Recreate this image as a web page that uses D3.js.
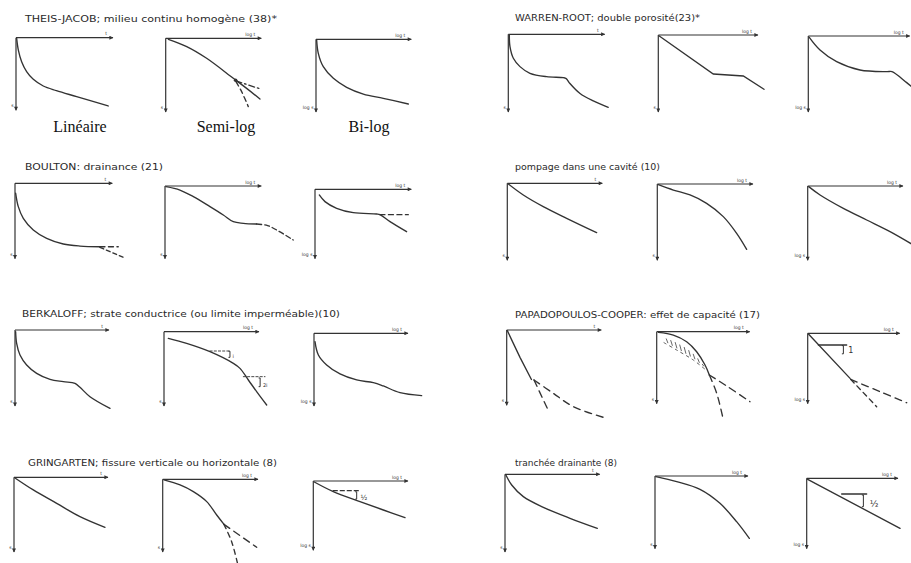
<!DOCTYPE html>
<html><head><meta charset="utf-8">
<script src="https://cdn.jsdelivr.net/npm/d3@7"></script>
<style>
html,body{margin:0;padding:0;background:#fff;}
svg{display:block;}
</style></head><body>
<svg id="c" width="911" height="563"></svg>
<script>
// ---------- texts ----------
const titles = [
  "THEIS-JACOB; milieu continu homogène (38)*",
  "WARREN-ROOT; double porosité(23)*",
  "BOULTON: drainance (21)",
  "pompage dans une cavité (10)",
  "BERKALOFF; strate conductrice (ou limite imperméable)(10)",
  "PAPADOPOULOS-COOPER: effet de capacité (17)",
  "GRINGARTEN; fissure verticale ou horizontale (8)",
  "tranchée drainante (8)"
];
const xAxisLabels = ["t", "log t", "log t"];
const yAxisLabels = ["s", "s", "log s"];
const scaleTypes = ["Linéaire", "Semi-log", "Bi-log"];

// ---------- curves: [time position, drawdown depth] in 0..100 axis units ----------
const theisLinear = [[0.7,0.9],[2.5,17.5],[6,34],[11.3,48],[18.4,59],[29,68.4],[43,75],[64.5,83.5],[98,96.7]];
const theisSemi = [[2.9,1.4],[22.7,11.6],[44.2,27.9],[73,55.8],[87.4,69.8],[101.8,84.7]];
const theisSemiFlat = [[75.9,59.5],[103.6,71.2]];
const theisSemiSteep = [[75.9,60.5],[82,74.4],[89.2,95.3]];
const theisSemiDot = [[75.5,58.5]];
const theisBilog = [[0.7,0.9],[2.5,19.8],[7.9,38.7],[18.8,55.2],[33.2,67.9],[51.3,77.4],[72.9,83.5],[100,91.5]];

const warrenLinear = [[1.1,0.9],[1.8,16.3],[5.4,31.7],[12.5,42.7],[23.2,51.5],[41,56],[59,57.3],[62,58.5],[66,65],[76.8,78.2],[91,88],[107,96.5]];
const warrenSemi = [[1,1.3],[56.9,52],[87.9,54.7],[109.3,72.4]];
const warrenBilog = [[1,1.8],[11.9,18.9],[28.8,34.7],[52.5,45.9],[80,48.2],[85,48.2],[100,63],[112,76]];

const boultonLinear = [[0.7,13.6],[3.5,31.8],[8.8,47.7],[19.4,63.6],[33.6,75],[51.2,82.7],[68.9,85.5],[90.1,86.4]];
const boultonLinearFlat = [[90.1,86.4],[109.5,86.4]];
const boultonLinearDrop = [[90.1,87.3],[114.8,100.9]];
const boultonSemi = [[1.1,0.9],[16,5.7],[30.4,15.1],[48.2,29.2],[62.5,41],[73.2,50.5],[84,52.8],[98.2,53.8]];
const boultonSemiDrop = [[98.2,53.8],[110,56],[122,64],[137.5,76.4]];
const boultonBilog = [[4.6,8.4],[10.7,18.3],[23.2,28.2],[41.1,34.7],[66.1,36.6],[69.6,37.6],[80.4,48],[98.2,62.9]];
const boultonBilogFlat = [[69.6,37.6],[100,37.6]];

const cavityLinear = [[1.1,0.9],[17.4,15.6],[39.1,31.1],[64.5,46.7],[97.1,65.8]];
const cavitySemi = [[1.1,0.9],[17.3,8.1],[35.3,14.8],[53.2,26],[71.2,43.9],[85.6,66.4],[96.4,87.9]];
const cavityBilog = [[1.1,0.9],[13.4,12.4],[38.6,30.9],[63.9,47],[89.2,63.1],[114.4,81.6]];

const berkLinear = [[0.7,2.3],[1.8,18],[5.5,33.8],[12.8,47.3],[23.8,58.6],[38.5,66.7],[53.1,69.8],[65.9,72.1],[71.4,77.5],[82.4,90.1],[104.4,105.9]];
const berkSemi = [[4.7,9.2],[24.6,16.1],[50,27.6],[75.4,43.8],[82.6,50.7],[91.7,66.8],[100.7,82.9],[111.6,101.4]];
const berkSemiRef1 = [[50,26.7],[71.7,26.7]];
const berkSemiRef2 = [[86.2,62.2],[109.8,62.2]];
const berkBilog = [[1.1,11.8],[4.8,30.7],[13.9,44.8],[28.6,57.5],[46.9,66],[65.2,69.8],[76.2,74.5],[94.5,84],[118.3,88.2]];

const papaLinear = [[0.7,0.9],[14.5,37.3],[27,67.5]];
const papaLinearSteep = [[29.8,68.2],[45.5,110]];
const papaLinearFlat = [[29.8,68.2],[50.9,86.4],[72.7,104.5],[109,120.5]];
const papaSemi = [[1.9,1],[18.5,4.8],[33.3,14.3],[44.4,28.6],[53.7,47.6],[58.5,61.9]];
const papaSemiLower = [[8.1,15.7],[22.2,26.2],[40.7,40.5],[55.6,55.7]];
const papaSemiSteep = [[58.5,61.9],[66.7,88.1],[74.1,126.2]];
const papaSemiFlat = [[58.5,61.9],[77.8,77.6],[103.7,100]];
const papaHatch = [11,16,21,26,31,36,41,46,51];
const papaBilog = [[1.1,1.5],[47.6,65.9]];
const papaBilogRef = [[12,17.1],[43.8,17.1]];
const papaBilogSteep = [[48.3,67.3],[77.5,107.3]];
const papaBilogFlat = [[48.3,67.3],[81.3,85.4],[111.2,101.5]];

const gringLinear = [[1.1,0.9],[21.2,17.4],[46.9,35.8],[72.5,54.1],[100,68.8]];
const gringSemi = [[1.4,0.9],[18.8,8],[33.2,17.5],[47.7,31.6],[58.5,50.5],[66.4,63.7]];
const gringSemiFlat = [[66.4,63.7],[101.8,96.2]];
const gringSemiSteep = [[66.4,63.7],[74.7,88.2],[80.9,118]];
const gringBilog = [[1.1,1.5],[21.8,15.8],[50.9,30.7],[76.4,43.1],[100,54.5]];
const gringBilogRef = [[21.8,14.4],[50.9,14.4]];

const trenchLinear = [[1.1,1.3],[7.3,14.1],[20,29.5],[41.8,43.6],[70.9,58.1],[100.7,71.4]];
const trenchSemi = [[1.1,0.9],[24.1,8],[50,18.9],[72.2,38.7],[90.7,64.6],[104.8,88.2]];
const trenchBilog = [[1.1,1.5],[105.7,73.2]];
const trenchBilogRef = [[39.6,22.9],[67.9,22.9]];

// slope annotations: [bracket u, v top, v bottom, label u, label v]
const berkSlope1 = [71.7,27,35.5,74.5,36];
const berkSlope2 = [104.5,64,76,107.5,76];
const papaSlope = [40.1,18,30,45.5,29];
const gringSlope = [47.3,16,27,51.5,27.5];
const trenchSlope = [64.2,24.4,41.5,71.5,42.5];

// ---------- layout (pixel boxes: x0, top, xEnd, bottom) ----------
const boxes = [
  [[16,37.7,110,108.3],[165.7,38.3,258.3,110],[316,39.3,408.3,110]],
  [[508.3,34.3,601.7,110],[658.3,35,755,110],[808.3,36,906.7,110]],
  [[15,183.3,109.3,256.7],[165,186,258.3,256.7],[315,189.3,408.3,256.7]],
  [[507.3,183.3,599.3,258.3],[657.3,184,750,258.3],[807.7,186,900,258.3]],
  [[15,330,106,404],[164,331.7,256,404],[314,333.3,405,404]],
  [[506.7,330,598.3,403.3],[656.7,331.7,746.7,401.7],[807.7,333.3,896.7,401.7]],
  [[14,477.3,105,550],[162.7,479.3,255,550],[313.3,481,405,548.3]],
  [[505,474.3,596.7,550],[655,476,745,546.7],[806.7,478.3,895,546.7]]
];
const titlePos = [[25,22,252],[515,21,185],[25,170,138],[515,169.5,145],[22,317,318],[515,318,245],[28,466,249],[515,466,102]];

const DASH = "5,3.5", LDASH = "7,5", DOT = "2.2,2";
const smooth = d3.curveCatmullRom.alpha(0.5), straight = d3.curveLinear;

const panels = [
  [ [{d:theisLinear}],
    [{d:theisSemi},{d:theisSemiFlat,dash:"6,3,1.5,3",c:straight},{d:theisSemiSteep,dash:DASH},{dot:theisSemiDot}],
    [{d:theisBilog}] ],
  [ [{d:warrenLinear}],
    [{d:warrenSemi,c:straight}],
    [{d:warrenBilog}] ],
  [ [{d:boultonLinear},{d:boultonLinearFlat,dash:DASH,c:straight},{d:boultonLinearDrop,dash:"4,3",c:straight}],
    [{d:boultonSemi},{d:boultonSemiDrop,dash:"5,3"}],
    [{d:boultonBilog},{d:boultonBilogFlat,dash:DASH,c:straight}] ],
  [ [{d:cavityLinear}], [{d:cavitySemi}], [{d:cavityBilog}] ],
  [ [{d:berkLinear}],
    [{d:berkSemi},{d:berkSemiRef1,dash:DOT,c:straight,w:0.9},{d:berkSemiRef2,dash:DOT,c:straight,w:0.9},
     {slope:berkSlope1,label:"i",fs:5},{slope:berkSlope2,label:"2i",fs:5}],
    [{d:berkBilog}] ],
  [ [{d:papaLinear,c:straight},{d:papaLinearSteep,dash:LDASH,c:straight},{d:papaLinearFlat,dash:LDASH}],
    [{d:papaSemi},{d:papaSemiLower,dash:"2.5,4",w:0.8},{hatch:papaHatch,lo:papaSemiLower,hi:papaSemi},
     {d:papaSemiSteep,dash:LDASH},{d:papaSemiFlat,dash:LDASH}],
    [{d:papaBilog,c:straight},{d:papaBilogRef,c:straight},{slope:papaSlope,label:"1",fs:8},
     {d:papaBilogSteep,dash:"5,4",c:straight},{d:papaBilogFlat,dash:LDASH}] ],
  [ [{d:gringLinear}],
    [{d:gringSemi},{d:gringSemiFlat,dash:LDASH,c:straight},{d:gringSemiSteep,dash:"5,4"}],
    [{d:gringBilog},{d:gringBilogRef,dash:"4,3",c:straight},{slope:gringSlope,label:"½",fs:7}] ],
  [ [{d:trenchLinear}], [{d:trenchSemi}],
    [{d:trenchBilog,c:straight},{d:trenchBilogRef,c:straight},{slope:trenchSlope,label:"½",fs:9}] ]
];

// ---------- drawing ----------
const ink = "#333";
const svg = d3.select("#c");
svg.append("rect").attr("width",911).attr("height",563).attr("fill","#fff");
svg.append("defs").append("marker")
  .attr("id","arr").attr("viewBox","0 0 10 10").attr("refX",9).attr("refY",5)
  .attr("markerUnits","userSpaceOnUse").attr("markerWidth",5).attr("markerHeight",4)
  .attr("orient","auto")
  .append("path").attr("d","M0,0L10,5L0,10z").attr("fill",ink);

panels.forEach((plots, pi) => {
  const [tx, ty, tw] = titlePos[pi];
  svg.append("text").attr("x",tx).attr("y",ty)
    .attr("textLength",tw).attr("lengthAdjust","spacingAndGlyphs")
    .attr("font-family","DejaVu Sans, sans-serif").attr("font-size",8.5)
    .attr("fill","#2a2a2a").text(titles[pi]);

  plots.forEach((items, k) => {
    const [x0, top, x1, bot] = boxes[pi][k];
    const x = d3.scaleLinear().domain([0,100]).range([x0,x1]);
    const y = d3.scaleLinear().domain([0,100]).range([top,bot]);
    const g = svg.append("g");
    // axes
    g.append("line").attr("x1",x(0)).attr("y1",y(0)).attr("x2",x(100)+3).attr("y2",y(0))
      .attr("stroke",ink).attr("stroke-width",1.2).attr("marker-end","url(#arr)");
    g.append("line").attr("x1",x(0)).attr("y1",y(0)).attr("x2",x(0)).attr("y2",y(100)+2)
      .attr("stroke",ink).attr("stroke-width",1.2).attr("marker-end","url(#arr)");
    g.append("text").attr("x",x(100)-3).attr("y",y(0)-2.5).attr("text-anchor","end")
      .attr("font-family","DejaVu Sans, sans-serif").attr("font-size",4.5).attr("fill",ink)
      .text(xAxisLabels[k]);
    g.append("text").attr("x",x(0)-2.5).attr("y",y(100)-1).attr("text-anchor","end")
      .attr("font-family","DejaVu Sans, sans-serif").attr("font-size",4.5).attr("fill",ink)
      .text(yAxisLabels[k]);

    items.forEach(it => {
      if (it.d) {
        const line = d3.line().x(d=>x(d[0])).y(d=>y(d[1])).curve(it.c || smooth);
        g.append("path").attr("d",line(it.d)).attr("fill","none").attr("stroke",ink)
          .attr("stroke-width",it.w || 1.35).attr("stroke-linecap","round")
          .attr("stroke-dasharray",it.dash || null);
      } else if (it.dot) {
        it.dot.forEach(p => g.append("circle").attr("cx",x(p[0])).attr("cy",y(p[1])).attr("r",1.8).attr("fill",ink));
      } else if (it.slope) {
        const [bu, v1, v2, lu, lv] = it.slope;
        g.append("path")
          .attr("d",`M${x(bu)-1.5},${y(v1)}L${x(bu)},${y(v1)}L${x(bu)},${y(v2)}L${x(bu)-1.5},${y(v2)}`)
          .attr("fill","none").attr("stroke",ink).attr("stroke-width",1);
        g.append("text").attr("x",x(lu)).attr("y",y(lv))
          .attr("font-family","DejaVu Sans, sans-serif").attr("font-size",it.fs).attr("fill",ink)
          .text(it.label);
      } else if (it.hatch) {
        const lo = d3.scaleLinear().domain(it.lo.map(d=>d[0])).range(it.lo.map(d=>d[1])).clamp(true);
        const hi = d3.scaleLinear().domain(it.hi.map(d=>d[0])).range(it.hi.map(d=>d[1])).clamp(true);
        it.hatch.forEach(u => {
          const a = lo(u), b = hi(u);
          g.append("line").attr("x1",x(u+1.5)).attr("y1",y(a - 1.5))
            .attr("x2",x(u-0.5)).attr("y2",y(a - (a-b)*0.55))
            .attr("stroke","#555").attr("stroke-width",0.9);
        });
      }
    });
  });
});

// scale-type captions under the first row
const captionX = [80, 226, 369];
scaleTypes.forEach((s,i) => {
  svg.append("text").attr("x",captionX[i]).attr("y",132).attr("text-anchor","middle")
    .attr("font-family","Liberation Serif, Times New Roman, serif").attr("font-size",16)
    .attr("fill","#111").text(s);
});
</script>
</body></html>
